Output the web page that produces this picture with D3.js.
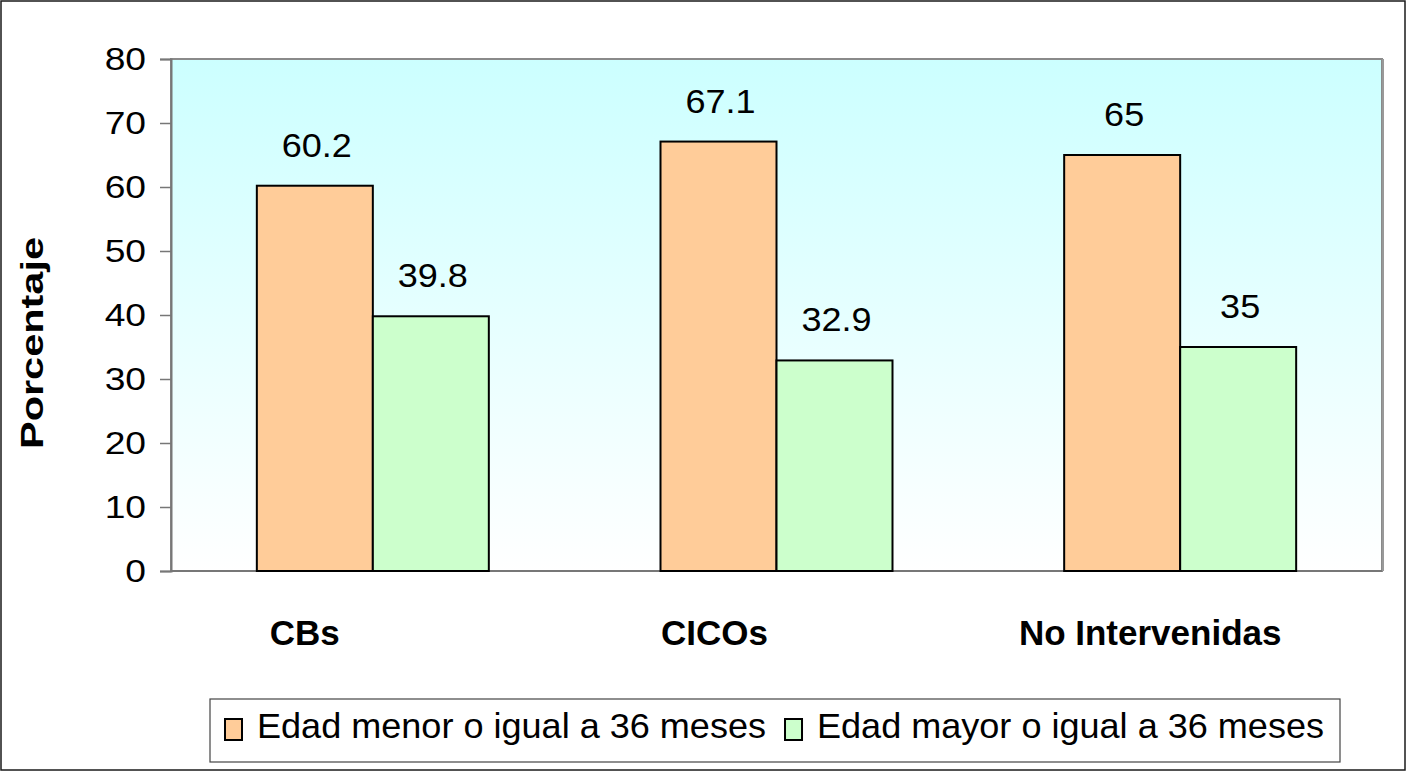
<!DOCTYPE html>
<html>
<head>
<meta charset="utf-8">
<script src="https://cdn.jsdelivr.net/npm/d3@7"></script>
<style>
  body { margin: 0; background: #fff; }
  svg { display: block; font-family: "Liberation Sans", Arial, sans-serif; }
</style>
</head>
<body>
<div id="chart"></div>
<script>
// data
const categories = ['CBs', 'CICOs', 'No Intervenidas'];
const seriesNames = ['Edad menor o igual a 36 meses', 'Edad mayor o igual a 36 meses'];
const menor = [60.2, 67.1, 65];
const mayor = [39.8, 32.9, 35];
const yTicks = [0, 10, 20, 30, 40, 50, 60, 70, 80];

const colors = ['#ffcc99', '#ccffcc'];
// category labels in the original sit a bit left of the group centre
const catLabelDx = [-68, -62, -30];

const W = 1407, H = 774;
const plot = { left: 171, right: 1382, top: 59, bottom: 571 };

const svg = d3.select('#chart').append('svg')
  .attr('width', W)
  .attr('height', H);

// stretch text horizontally like the source rendering
function stretch(sel, k) {
  sel.each(function() {
    const len = this.getComputedTextLength();
    d3.select(this)
      .attr('textLength', len * k)
      .attr('lengthAdjust', 'spacingAndGlyphs');
  });
}

// outer frame
svg.append('rect')
  .attr('x', 1).attr('y', 1)
  .attr('width', W - 3).attr('height', H - 5)
  .attr('fill', '#fff')
  .attr('stroke', '#1a1a1a')
  .attr('stroke-width', 1.5);

// plot background gradient
const grad = svg.append('defs').append('linearGradient')
  .attr('id', 'bg').attr('x1', 0).attr('y1', 0).attr('x2', 0).attr('y2', 1);
grad.append('stop').attr('offset', '0%').attr('stop-color', '#ccffff');
grad.append('stop').attr('offset', '100%').attr('stop-color', '#ffffff');

svg.append('rect')
  .attr('x', plot.left).attr('y', plot.top)
  .attr('width', plot.right - plot.left)
  .attr('height', plot.bottom - plot.top)
  .attr('fill', 'url(#bg)')
  .attr('stroke', '#8a8a8a')
  .attr('stroke-width', 2);
// right-side shadow edge
svg.append('line')
  .attr('x1', plot.right + 1).attr('x2', plot.right + 1)
  .attr('y1', plot.top).attr('y2', plot.bottom)
  .attr('stroke', '#999').attr('stroke-width', 2);

// scales
const x0 = d3.scaleBand()
  .domain(categories)
  .range([plot.left, plot.right])
  .padding(0);

const x1 = d3.scaleBand()
  .domain([0, 1])
  .range([0, x0.bandwidth()])
  .paddingInner(0)
  .paddingOuter(0.74);

const y = d3.scaleLinear()
  .domain([0, 80])
  .range([plot.bottom, plot.top]);

// y axis
const yAxis = svg.append('g')
  .attr('transform', `translate(${plot.left},0)`)
  .call(d3.axisLeft(y).tickValues(yTicks).tickSize(11).tickPadding(14));
yAxis.select('.domain').attr('stroke', '#777').attr('stroke-width', 2);
yAxis.selectAll('.tick line').attr('stroke', '#777').attr('stroke-width', 1.5);
yAxis.selectAll('.tick text')
  .attr('fill', '#000')
  .attr('font-size', 31)
  .attr('font-family', '"Liberation Sans", Arial, sans-serif')
  .attr('dy', '0.34em')
  .call(stretch, 1.2);

// bottom axis line
svg.append('line')
  .attr('x1', plot.left).attr('x2', plot.right)
  .attr('y1', y(0)).attr('y2', y(0))
  .attr('stroke', '#777').attr('stroke-width', 2);

// bars
const rows = categories.map((c, i) => ({ cat: c, vals: [menor[i], mayor[i]] }));

const groups = svg.append('g')
  .selectAll('g')
  .data(rows)
  .enter().append('g')
  .attr('transform', d => `translate(${x0(d.cat)},0)`);

groups.selectAll('rect')
  .data(d => d.vals.map((v, s) => ({ v, s })))
  .enter().append('rect')
  .attr('x', d => x1(d.s))
  .attr('y', d => y(d.v))
  .attr('width', x1.bandwidth())
  .attr('height', d => y(0) - y(d.v))
  .attr('fill', d => colors[d.s])
  .attr('stroke', '#000')
  .attr('stroke-width', 2);

// value labels
groups.selectAll('text.val')
  .data(d => d.vals.map((v, s) => ({ v, s })))
  .enter().append('text')
  .attr('class', 'val')
  .attr('x', d => x1(d.s) + x1.bandwidth() / 2 + 2)
  .attr('y', d => y(d.v) - 29)
  .attr('text-anchor', 'middle')
  .attr('font-size', 34)
  .attr('fill', '#000')
  .text(d => d.v)
  .call(stretch, 1.06);

// category labels
svg.append('g')
  .selectAll('text')
  .data(categories)
  .enter().append('text')
  .attr('x', (d, i) => x0(d) + x0.bandwidth() / 2 + catLabelDx[i])
  .attr('y', 645)
  .attr('text-anchor', 'middle')
  .attr('font-size', 35)
  .attr('font-weight', 'bold')
  .attr('fill', '#000')
  .text(d => d);

// y title
svg.append('text')
  .attr('transform', `translate(43,${(plot.top + plot.bottom) / 2 + 28}) rotate(-90)`)
  .attr('text-anchor', 'middle')
  .attr('font-size', 31)
  .attr('font-weight', 'bold')
  .attr('fill', '#000')
  .text('Porcentaje')
  .attr('textLength', 212)
  .attr('lengthAdjust', 'spacingAndGlyphs');

// legend
const legend = svg.append('g');
legend.append('rect')
  .attr('x', 210).attr('y', 699)
  .attr('width', 1130).attr('height', 63)
  .attr('fill', '#fff')
  .attr('stroke', '#444')
  .attr('stroke-width', 1.2);

let lx = 225;
seriesNames.forEach((name, i) => {
  legend.append('rect')
    .attr('x', lx).attr('y', 719)
    .attr('width', 17).attr('height', 21)
    .attr('fill', colors[i])
    .attr('stroke', '#000')
    .attr('stroke-width', 2);
  const t = legend.append('text')
    .attr('x', lx + 32)
    .attr('y', 738)
    .attr('font-size', 35)
    .attr('fill', '#000')
    .text(name)
    .call(stretch, 1.03);
  lx = lx + 32 + (+t.attr('textLength')) + 19;
});
</script>
</body>
</html>
